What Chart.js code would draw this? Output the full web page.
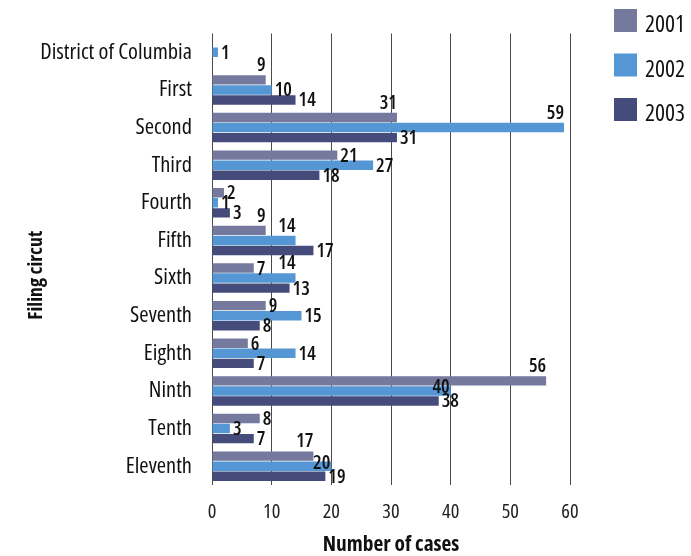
<!DOCTYPE html>
<html>
<head>
<meta charset="utf-8">
<script src="https://cdn.jsdelivr.net/npm/chart.js@4/dist/chart.umd.min.js"></script>
<style>
  html, body { margin: 0; padding: 0; background: #fff; }
  #wrap { width: 691px; height: 556px; }
</style>
</head>
<body>
<div id="wrap"><canvas id="chart" width="691" height="556"></canvas></div>
<script>
// Filing circuits and yearly case counts
const circuits = ['District of Columbia', 'First', 'Second', 'Third', 'Fourth', 'Fifth',
                  'Sixth', 'Seventh', 'Eighth', 'Ninth', 'Tenth', 'Eleventh'];
const years = ['2001', '2002', '2003'];
const cases2001 = [null, 9, 31, 21, 2, 9, 7, 9, 6, 56, 8, 17];
const cases2002 = [1, 10, 59, 27, 1, 14, 14, 15, 14, 40, 3, 20];
const cases2003 = [null, 14, 31, 18, 3, 17, 13, 8, 7, 38, 7, 19];
const xTicks = [0, 10, 20, 30, 40, 50, 60];

// Where each value label sits next to its bar: r = right of the end, a = above the end, i = just inside the end
const place2001 = ['r', 'a', 'a', 'r', 'r', 'a', 'r', 'r', 'r', 'a', 'r', 'a'];
const place2002 = ['r', 'r', 'a', 'r', 'r', 'a', 'a', 'r', 'r', 'i', 'r', 'i'];
const place2003 = ['r', 'r', 'r', 'r', 'r', 'r', 'r', 'r', 'r', 'r', 'r', 'r'];

const COLORS = ['#74799d', '#5597d4', '#454c7b'];

// Pick a narrow sans face: a width-variable family set to condensed if the system has one,
// otherwise DejaVu Sans Condensed; then scale sizes so the longest circuit name fits its column.
const FACE = (function () {
  const c = document.createElement('canvas').getContext('2d');
  const probe = 'District of Columbia';
  const candidates = ["'Noto Sans'", "'Open Sans'", "Roboto", "Inter"];
  let face = { family: "'DejaVu Sans Condensed', 'DejaVu Sans', sans-serif", stretch: '' };
  for (const fam of candidates) {
    c.font = '100px ' + fam;
    const wNormal = c.measureText(probe).width;
    c.font = 'condensed 100px ' + fam;
    const wCond = c.measureText(probe).width;
    if (wCond < wNormal * 0.9) { face = { family: fam + ', sans-serif', stretch: 'condensed' }; break; }
  }
  c.font = (face.stretch + ' 21px ' + face.family).trim();
  const w = c.measureText(probe).width;
  face.k = Math.max(0.75, Math.min(1.2, 152 / w));
  return face;
})();

function weightOf(w) { return (FACE.stretch + ' ' + w).trim(); }
function fontStr(w, size) { return weightOf(w) + ' ' + (size * FACE.k).toFixed(2) + 'px ' + FACE.family; }

const valueLabels = {
  id: 'valueLabels',
  afterDatasetsDraw(chart) {
    const ctx = chart.ctx;
    ctx.save();
    ctx.font = fontStr(600, 18);
    ctx.fillStyle = '#111';
    chart.data.datasets.forEach((ds, di) => {
      const meta = chart.getDatasetMeta(di);
      meta.data.forEach((bar, i) => {
        const v = ds.data[i];
        if (v === null || v === undefined) return;
        const mode = ds.labelPlacement[i];
        const top = bar.y - bar.height / 2;
        if (mode === 'a') {
          ctx.textAlign = 'right'; ctx.textBaseline = 'alphabetic';
          ctx.fillText(String(v), bar.x, top - 4);
        } else if (mode === 'i') {
          ctx.textAlign = 'right'; ctx.textBaseline = 'middle';
          ctx.fillText(String(v), bar.x - 1, bar.y - 3);
        } else {
          ctx.textAlign = 'left'; ctx.textBaseline = 'middle';
          ctx.fillText(String(v), bar.x + 3, bar.y + 1);
        }
      });
    });
    ctx.restore();
  }
};

// Legend boxes at the upper right and the two axis titles
const sideText = {
  id: 'sideText',
  afterDraw(chart) {
    const ctx = chart.ctx;
    const area = chart.chartArea;
    ctx.save();
    chart.data.datasets.forEach((ds, i) => {
      const bx = 614, by = 9 + i * 44.5;
      ctx.fillStyle = ds.backgroundColor;
      ctx.fillRect(bx, by, 23, 23);
      ctx.fillStyle = '#111';
      ctx.font = fontStr(400, 22);
      ctx.textAlign = 'left';
      ctx.textBaseline = 'alphabetic';
      ctx.fillText(ds.label, bx + 31, by + 23);
    });
    ctx.fillStyle = '#111';
    ctx.textAlign = 'center';
    ctx.textBaseline = 'middle';
    ctx.font = fontStr(700, 20);
    ctx.fillText('Number of cases', (area.left + area.right) / 2, 545);
    ctx.font = fontStr(700, 18.5);
    ctx.translate(36, (area.top + area.bottom) / 2 + 16);
    ctx.rotate(-Math.PI / 2);
    ctx.fillText('Filing circut', 0, 0);
    ctx.restore();
  }
};

const seriesValues = [cases2001, cases2002, cases2003];
const placements = [place2001, place2002, place2003];

new Chart(document.getElementById('chart'), {
  type: 'bar',
  data: {
    labels: circuits,
    datasets: years.map((y, i) => ({
      label: y,
      data: seriesValues[i],
      backgroundColor: COLORS[i],
      labelPlacement: placements[i],
      categoryPercentage: 0.8,
      barPercentage: 0.94
    }))
  },
  options: {
    indexAxis: 'y',
    responsive: false,
    animation: false,
    devicePixelRatio: 1,
    layout: { padding: { top: 10, right: 121, bottom: 0, left: 0 } },
    plugins: { legend: { display: false }, tooltip: { enabled: false } },
    scales: {
      x: {
        type: 'linear',
        min: xTicks[0],
        max: xTicks[xTicks.length - 1],
        afterBuildTicks(scale) { scale.ticks = xTicks.map(v => ({ value: v })); },
        ticks: { padding: 15, color: '#222',
                 font: { family: FACE.family, size: 19 * FACE.k, weight: weightOf(400) } },
        grid: { color: '#4a4a4a', lineWidth: 1, drawTicks: false },
        border: { display: false },
        afterFit(scale) { scale.height = 71; }
      },
      y: {
        ticks: { padding: 20, color: '#111',
                 font: { family: FACE.family, size: 21 * FACE.k, weight: weightOf(400) } },
        grid: { display: false, drawTicks: false },
        border: { display: false },
        afterFit(scale) { scale.width = 212; }
      }
    }
  },
  plugins: [valueLabels, sideText]
});
</script>
</body>
</html>
